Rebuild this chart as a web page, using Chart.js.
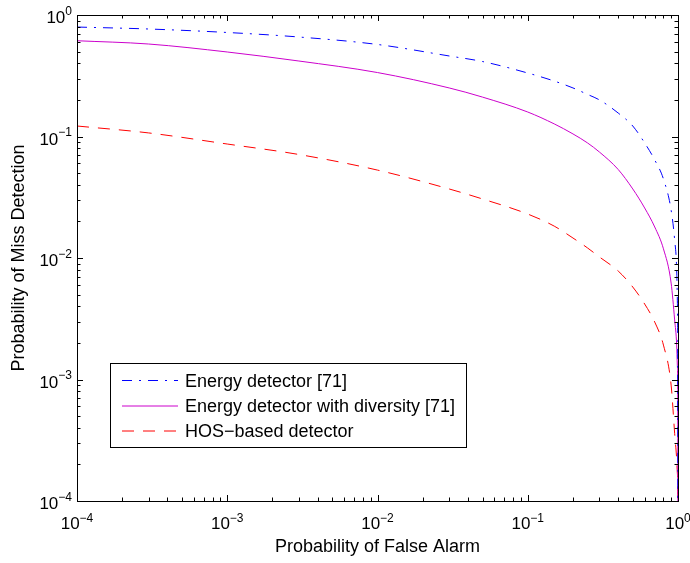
<!DOCTYPE html>
<html>
<head>
<meta charset="utf-8">
<script src="https://cdn.jsdelivr.net/npm/chart.js@4/dist/chart.umd.min.js"></script>
<style>
  body { margin: 0; background: #fff; }
  canvas { display: block; }
</style>
</head>
<body>
<canvas id="roc" width="690" height="563"></canvas>
<script>
// probability of false alarm (x values, shared by all curves)
const pf = [1e-4, 3e-4, 1e-3, 3e-3, 1e-2, 3e-2, 0.05, 0.1, 0.15, 0.2, 0.25, 0.3, 0.4, 0.5, 0.6, 0.7, 0.8, 0.9, 0.95, 0.98, 0.99, 0.995, 1];

// probability of miss detection
const energyDet = [0.796, 0.767, 0.718, 0.659, 0.572, 0.460, 0.414, 0.333, 0.286, 0.251, 0.222, 0.200, 0.156, 0.122, 0.0885, 0.0641, 0.0447, 0.0248, 0.0141, 0.008, 0.0045, 0.0021, 1e-5];
const energyDiv = [0.614, 0.577, 0.496, 0.418, 0.336, 0.251, 0.211, 0.159, 0.127, 0.105, 0.0885, 0.0745, 0.0535, 0.0370, 0.0258, 0.0180, 0.0119, 0.00622, 0.00309, 0.00192, 0.00131, 0.00083, 1e-5];
const hosDet = [0.122, 0.107, 0.0867, 0.0711, 0.0529, 0.037, 0.0306, 0.0230, 0.0183, 0.0146, 0.0121, 0.0102, 0.00781, 0.00577, 0.00418, 0.00297, 0.00192, 0.00090, 0.00036, 0.00022, 0.00017, 0.00013, 1e-5];

const seriesNames = ["Energy detector [71]", "Energy detector with diversity [71]", "HOS\u2212based detector"];

// decade tick labels (10^exp)
const decades = [1e-4, 1e-3, 1e-2, 1e-1, 1];
const exps = ["\u22124", "\u22123", "\u22122", "\u22121", "0"];

const font = "Helvetica, Arial, 'Liberation Sans', sans-serif";

function pts(ys) {
  return pf.map((x, i) => ({ x: x, y: ys[i] }));
}

// draws the matlab-style box, ticks, labels and legend
const matlabAxes = {
  id: "matlabAxes",
  afterDraw(chart) {
    const ctx = chart.ctx;
    const a = chart.chartArea;
    const xs = chart.scales.x;
    const ys = chart.scales.y;
    ctx.save();
    ctx.strokeStyle = "#000";
    ctx.lineWidth = 1;

    // ticks on all four sides
    ctx.beginPath();
    decades.forEach((d, i) => {
      for (let m = 1; m <= 9; m++) {
        if (i === decades.length - 1 && m > 1) break;
        const v = d * m;
        const len = m === 1 ? 6 : 3.5;
        const px = Math.round(xs.getPixelForValue(v)) + 0.5;
        const py = Math.round(ys.getPixelForValue(v)) + 0.5;
        ctx.moveTo(px, a.bottom); ctx.lineTo(px, a.bottom - len);
        ctx.moveTo(px, a.top); ctx.lineTo(px, a.top + len);
        ctx.moveTo(a.left, py); ctx.lineTo(a.left + len, py);
        ctx.moveTo(a.right, py); ctx.lineTo(a.right - len, py);
      }
    });
    ctx.stroke();

    // box
    ctx.strokeRect(Math.round(a.left) + 0.5, Math.round(a.top) + 0.5,
      Math.round(a.right - a.left), Math.round(a.bottom - a.top));

    // tick labels
    ctx.fillStyle = "#000";
    ctx.textBaseline = "alphabetic";
    decades.forEach((d, i) => {
      ctx.font = "17px " + font;
      const w10 = ctx.measureText("10").width;
      ctx.font = "12px " + font;
      const we = ctx.measureText(exps[i]).width;
      const tot = w10 + we;

      // x axis
      const px = xs.getPixelForValue(d);
      ctx.textAlign = "left";
      ctx.font = "17px " + font;
      ctx.fillText("10", px - tot / 2, a.bottom + 28);
      ctx.font = "12px " + font;
      ctx.fillText(exps[i], px - tot / 2 + w10, a.bottom + 20.5);

      // y axis
      const py = ys.getPixelForValue(d);
      const rx = a.left - 5;
      ctx.font = "17px " + font;
      ctx.fillText("10", rx - tot, py + 8);
      ctx.font = "12px " + font;
      ctx.fillText(exps[i], rx - we, py - 0.5);
    });

    // axis titles
    ctx.font = "18px " + font;
    ctx.textAlign = "center";
    ctx.fillText("Probability of False Alarm", (a.left + a.right) / 2, 552);
    ctx.save();
    ctx.translate(24, (a.top + a.bottom) / 2);
    ctx.rotate(-Math.PI / 2);
    ctx.fillText("Probability of Miss Detection", 0, 0);
    ctx.restore();

    // legend
    ctx.fillStyle = "#fff";
    ctx.fillRect(110.5, 363.5, 356, 84);
    ctx.strokeStyle = "#000";
    ctx.strokeRect(110.5, 363.5, 356, 84);
    const rowY = [380, 405.5, 430.5];
    chart.data.datasets.forEach((ds, i) => {
      ctx.strokeStyle = ds.borderColor;
      ctx.lineWidth = 1;
      ctx.setLineDash(ds.borderDash || []);
      ctx.beginPath();
      ctx.moveTo(122, rowY[i] + 0.5);
      ctx.lineTo(178, rowY[i] + 0.5);
      ctx.stroke();
      ctx.setLineDash([]);
      ctx.fillStyle = "#000";
      ctx.textAlign = "left";
      ctx.font = "18px " + font;
      ctx.fillText(ds.label, 185, rowY[i] + 6.5);
    });
    ctx.restore();
  }
};

new Chart(document.getElementById("roc"), {
  type: "line",
  data: {
    datasets: [
      {
        label: seriesNames[0],
        data: pts(energyDet),
        borderColor: "#0000ff",
        borderDash: [10, 7, 2, 7],
      },
      {
        label: seriesNames[1],
        data: pts(energyDiv),
        borderColor: "#cc00cc",
      },
      {
        label: seriesNames[2],
        data: pts(hosDet),
        borderColor: "#ff0000",
        borderDash: [12, 9],
      },
    ],
  },
  options: {
    responsive: false,
    animation: false,
    devicePixelRatio: 1,
    layout: { padding: { left: 77, right: 12, top: 15, bottom: 62 } },
    elements: {
      point: { radius: 0 },
      line: { borderWidth: 1, cubicInterpolationMode: "monotone", fill: false },
    },
    plugins: {
      legend: { display: false },
      tooltip: { enabled: false },
    },
    scales: {
      x: { type: "logarithmic", min: 1e-4, max: 1, display: false },
      y: { type: "logarithmic", min: 1e-4, max: 1, display: false },
    },
  },
  plugins: [matlabAxes],
});
</script>
</body>
</html>
